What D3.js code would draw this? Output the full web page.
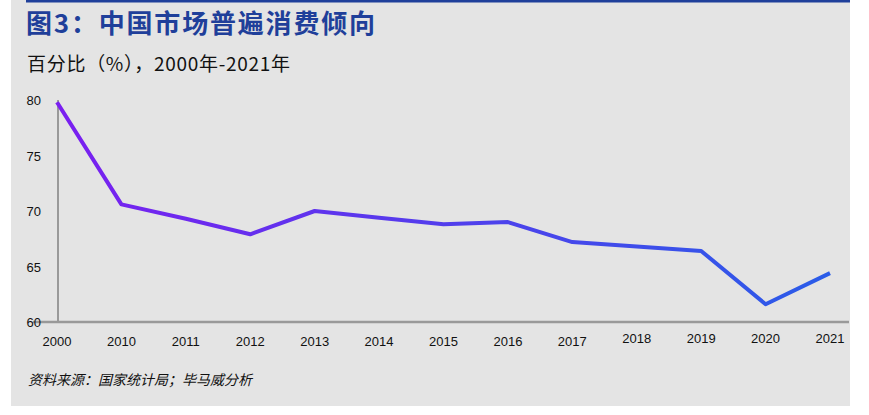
<!DOCTYPE html>
<html><head><meta charset="utf-8">
<script src="https://cdn.jsdelivr.net/npm/d3@7"></script>
<style>body{margin:0;background:#fff;font-family:"Noto Sans CJK SC","Noto Sans",sans-serif;}</style>
</head><body><div class="chart-box"></div>
<script>
const years = ["2000","2010","2011","2012","2013","2014","2015","2016","2017","2018","2019","2020","2021"];
const values = [79.8, 70.6, 69.3, 67.9, 70.0, 69.4, 68.8, 69.0, 67.2, 66.8, 66.4, 61.6, 64.4];
const yTicks = [60, 65, 70, 75, 80];

const W = 869, H = 415;
const svg = d3.select(".chart-box").append("svg").attr("width", W).attr("height", H);

svg.append("rect").attr("x", 11).attr("y", 0).attr("width", 839).attr("height", 406).attr("fill", "#e4e4e4");
svg.append("rect").attr("x", 26).attr("y", 0).attr("width", 824).attr("height", 2.5).attr("fill", "#1f3f9a");

svg.append("text").attr("x", 26).attr("y", 33).attr("font-size", 26).attr("font-weight", "bold")
  .attr("fill", "#1f3f9a").attr("textLength", 349).text("图3：中国市场普遍消费倾向");
svg.append("text").attr("x", 27).attr("y", 71).attr("font-size", 19).attr("fill", "#111")
  .attr("textLength", 263).text("百分比（%），2000年-2021年");

const x = d3.scalePoint().domain(years).range([57, 830]);
const y = d3.scaleLinear().domain([60, 80]).range([322, 100]);

svg.append("line").attr("x1", 58).attr("x2", 58).attr("y1", 100).attr("y2", 322)
  .attr("stroke", "#999").attr("stroke-width", 2);
svg.append("line").attr("x1", 33).attr("x2", 849).attr("y1", y(60)).attr("y2", y(60))
  .attr("stroke", "#999").attr("stroke-width", 2.5);

svg.selectAll(".yt").data(yTicks).enter().append("text")
  .attr("x", 41).attr("y", d => y(d) + 5).attr("text-anchor", "end")
  .attr("font-size", 13).attr("fill", "#111").attr("font-family", "Liberation Sans Narrow, Arial")
  .text(d => d);

svg.selectAll(".xt").data(years).enter().append("text")
  .attr("x", d => x(d)).attr("y", (d, i) => i >= 9 ? 343 : 346).attr("text-anchor", "middle")
  .attr("font-size", 13).attr("fill", "#111").attr("font-family", "Liberation Sans Narrow, Arial")
  .text(d => d);

const grad = svg.append("defs").append("linearGradient").attr("id", "lg")
  .attr("gradientUnits", "userSpaceOnUse").attr("x1", 57).attr("x2", 830).attr("y1", 0).attr("y2", 0);
grad.append("stop").attr("offset", "0%").attr("stop-color", "#7a1ff0");
grad.append("stop").attr("offset", "100%").attr("stop-color", "#2a5ce8");

svg.append("path").datum(values)
  .attr("d", d3.line().x((d, i) => x(years[i])).y(d => y(d)))
  .attr("fill", "none").attr("stroke", "url(#lg)").attr("stroke-width", 4).attr("stroke-linejoin", "round");

svg.append("text").attr("x", 28).attr("y", 385).attr("font-size", 14).attr("font-style", "italic")
  .attr("fill", "#111").text("资料来源：国家统计局；毕马威分析");
</script></body></html>
